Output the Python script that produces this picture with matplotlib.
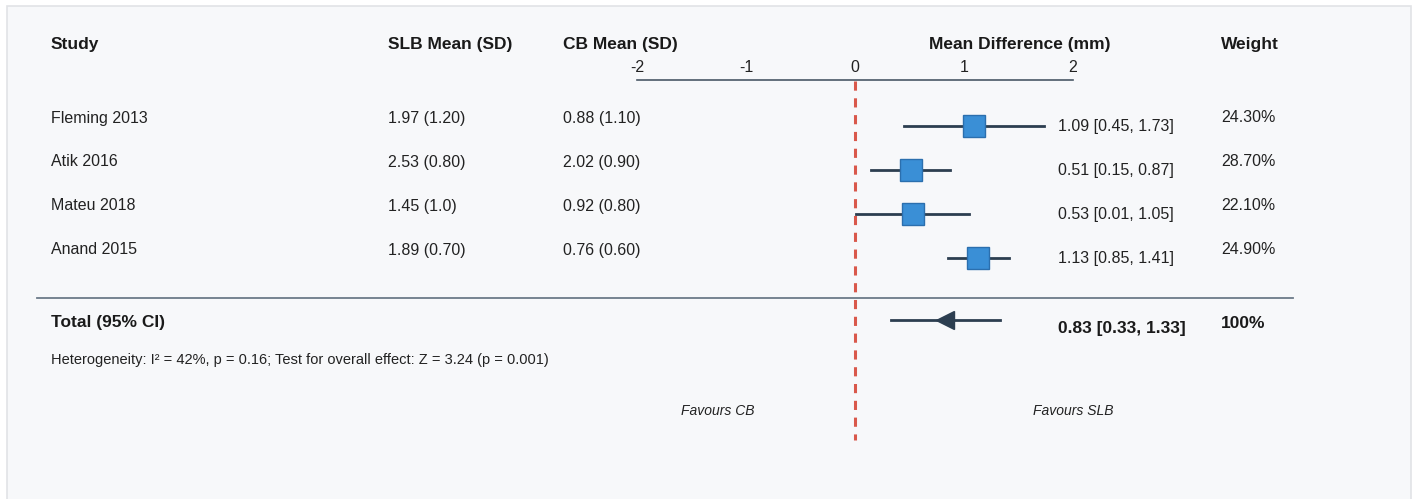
import matplotlib.pyplot as plt
from matplotlib.patches import Rectangle

# ---------------------------------------------------------
# Data: forest plot, SLB vs CB, mean difference (mm)
# ---------------------------------------------------------
studies = ["Fleming 2013", "Atik 2016", "Mateu 2018", "Anand 2015"]
slb_text = ["1.97 (1.20)", "2.53 (0.80)", "1.45 (1.0)", "1.89 (0.70)"]
cb_text = ["0.88 (1.10)", "2.02 (0.90)", "0.92 (0.80)", "0.76 (0.60)"]
md = [1.09, 0.51, 0.53, 1.13]
ci_low = [0.45, 0.15, 0.01, 0.85]
ci_high = [1.73, 0.87, 1.05, 1.41]
weights = ["24.30%", "28.70%", "22.10%", "24.90%"]

total_md = 0.83
total_low = 0.33
total_high = 1.33
total_weight = "100%"
heterogeneity = "Heterogeneity: I² = 42%, p = 0.16; Test for overall effect: Z = 3.24 (p = 0.001)"
axis_ticks = [-2, -1, 0, 1, 2]

plt.rcParams['font.family'] = ['Liberation Sans', 'DejaVu Sans']

W, H = 1416, 499
fig = plt.figure(figsize=(W / 100, H / 100), dpi=100, facecolor="white")

ax = fig.add_axes([0, 0, 1, 1])
ax.set_facecolor("none")
ax.axis("off")

# light panel behind everything (axes fills the figure)
ax.add_patch(Rectangle((7 / W, -0.01), 1404 / W, 493 / H + 0.01, transform=ax.transAxes,
                       facecolor="#f7f8fa", edgecolor="#e1e3e6", linewidth=1.2,
                       zorder=0, clip_on=False))

# x: 0 sits at 855px, 109px per mm ; y: row index, 44px per row, first row at 126px
X0, XS = 855, 109
Y0, YS = 126, 44
ax.set_xlim(-X0 / XS, (W - X0) / XS)
ax.set_ylim((H - Y0) / YS, -Y0 / YS)


def px(x):
    return (x - X0) / XS


def py(y):
    return (y - Y0) / YS


txt = "#222222"
dark = "#2c3e50"

# headers
hdr = dict(fontsize=12.5, fontweight="bold", color="#1a1a1a", va="center")
ax.text(px(51), py(45), "Study", ha="left", **hdr)
ax.text(px(388), py(45), "SLB Mean (SD)", ha="left", **hdr)
ax.text(px(563), py(45), "CB Mean (SD)", ha="left", **hdr)
ax.text(px(1020), py(45), "Mean Difference (mm)", ha="center", **hdr)
ax.text(px(1221), py(45), "Weight", ha="left", **hdr)

# top scale
ax.plot([axis_ticks[0], axis_ticks[-1]], [py(80), py(80)], color="#4a5866", lw=1.2)
for t in axis_ticks:
    ax.text(t, py(67), str(t), ha="center", va="center", fontsize=11.5, color=txt)

# null line
ax.plot([0, 0], [py(81), py(440)], color="#d9584b", lw=2.2, ls=(0, (3, 2.5)), zorder=1)

# study rows
for i, name in enumerate(studies):
    ty = i - 8 / YS
    ax.text(px(51), ty, name, ha="left", va="center", fontsize=11.5, color=txt)
    ax.text(px(388), ty, slb_text[i], ha="left", va="center", fontsize=11.5, color=txt)
    ax.text(px(563), ty, cb_text[i], ha="left", va="center", fontsize=11.5, color=txt)
    ax.text(px(1221), ty, weights[i], ha="left", va="center", fontsize=11.5, color=txt)

    ax.plot([ci_low[i], ci_high[i]], [i, i], color=dark, lw=2.0, zorder=3)
    ax.plot(md[i], i, marker="s", ms=15.5, mfc="#3a8fd6", mec="#2b6fae", mew=1.0, zorder=4)
    ax.text(px(1058), i, f"{md[i]:.2f} [{ci_low[i]:.2f}, {ci_high[i]:.2f}]",
            ha="left", va="center", fontsize=11.5, color=txt)

# separator
ax.plot([px(37), px(1293)], [py(298), py(298)], color="#6c7a89", lw=1.3)

# total row
ax.text(px(51), py(323), "Total (95% CI)", ha="left", va="center",
        fontsize=12.5, fontweight="bold", color="#1a1a1a")
ax.plot([total_low, total_high], [py(320), py(320)], color=dark, lw=2.0, zorder=3)
ax.plot(total_md, py(320), marker="<", ms=13, mfc=dark, mec=dark, zorder=4)
ax.text(px(1058), py(328), f"{total_md:.2f} [{total_low:.2f}, {total_high:.2f}]",
        ha="left", va="center", fontsize=12.5, fontweight="bold", color="#1a1a1a")
ax.text(px(1221), py(323), total_weight, ha="left", va="center",
        fontsize=12.5, fontweight="bold", color="#1a1a1a")

ax.text(px(51), py(360), heterogeneity, ha="left", va="center", fontsize=10.5, color=txt)

# favours labels
ax.text(px(718), py(411), "Favours CB", ha="center", va="center",
        fontsize=10, fontstyle="italic", color=txt)
ax.text(px(1073), py(411), "Favours SLB", ha="center", va="center",
        fontsize=10, fontstyle="italic", color=txt)

fig.savefig("out.png", dpi=100, facecolor="white")
